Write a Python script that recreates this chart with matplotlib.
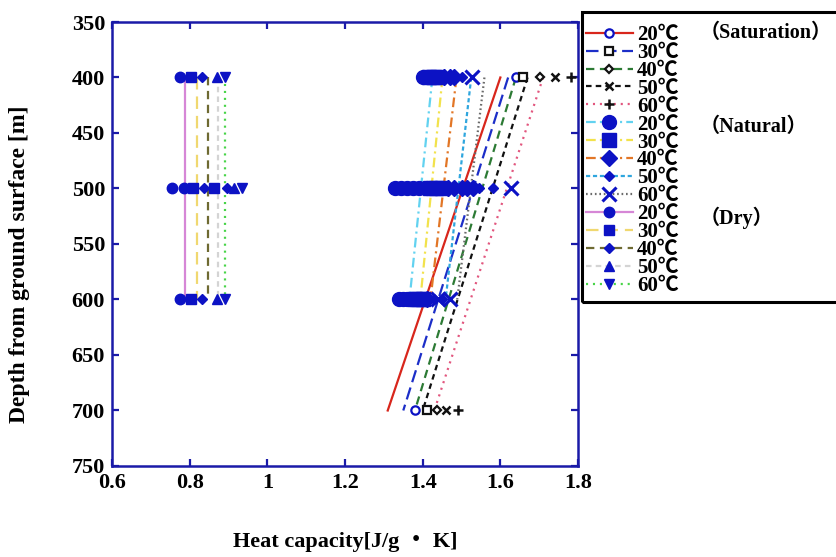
import matplotlib
matplotlib.use('Agg')
import matplotlib.pyplot as plt
from matplotlib.lines import Line2D
from matplotlib.patches import Rectangle

plt.rcParams['font.family'] = ['Liberation Serif', 'Noto Sans CJK JP']
plt.rcParams['font.weight'] = 'bold'
plt.rcParams['lines.scale_dashes'] = False

temps = ['20℃', '30℃', '40℃', '50℃', '60℃']

# Saturated samples: trend lines 400-700 m and measured points at 400 m / 700 m
sat_line_depth = [400, 700]
sat_line_x = [[1.600, 1.310], [1.620, 1.350], [1.640, 1.380], [1.670, 1.400], [1.710, 1.430]]
sat_pt_depth = [400, 700]
sat_pt_x = [[1.641, 1.379], [1.659, 1.410], [1.703, 1.438], [1.741, 1.461], [1.783, 1.492]]

# Natural-moisture samples: trend lines 400-600 m and measured points
nat_line_depth = [400, 600]
nat_line_x = [[1.425, 1.366], [1.451, 1.394], [1.487, 1.420], [1.525, 1.459], [1.559, 1.489]]
nat_pt_400 = [[1.400, 1.410, 1.420], [1.415, 1.430, 1.440], [1.455, 1.470, 1.480], [1.502], [1.528]]
nat_pt_500 = [[1.330, 1.345, 1.360, 1.375, 1.390, 1.410], [1.420, 1.435, 1.450],
              [1.465, 1.480, 1.500, 1.515, 1.530], [1.545, 1.580], [1.628]]
nat_pt_600 = [[1.340, 1.350, 1.360, 1.370], [1.380, 1.390, 1.400], [1.412], [1.430, 1.450],
              [1.440, 1.470]]

# Dry samples: constant values 400-600 m
dry_line_depth = [400, 600]
dry_line_x = [0.788, 0.819, 0.847, 0.873, 0.891]
dry_pt_400 = [[0.775], [0.803], [0.833], [0.870], [0.891]]
dry_pt_500 = [[0.755, 0.785], [0.808, 0.862], [0.838, 0.895], [0.915], [0.935]]
dry_pt_600 = [[0.775], [0.803], [0.833], [0.870], [0.891]]

BLUE = '#0c12c4'
AX_BLUE = '#1a1aa8'

sat_styles = [
    dict(color='#d8261c', ls='-', marker='o', ms=6, mfc='white', mec=BLUE, mew=1.6),
    dict(color='#1c2ec8', ls=(0, (9, 4)), marker='s', ms=5.5, mfc='white', mec='#111111', mew=1.6),
    dict(color='#2c7a34', ls=(0, (6, 4)), marker='D', ms=4.5, mfc='white', mec='#111111', mew=1.6),
    dict(color='#111111', ls=(0, (4, 3)), marker='x', ms=6, mfc='none', mec='#111111', mew=1.8),
    dict(color='#e2567e', ls=(0, (1.5, 3.5)), marker='+', ms=7, mfc='none', mec='#111111', mew=1.8),
]
nat_styles = [
    dict(color='#62d2f0', ls=(0, (7, 3, 1.5, 3)), marker='o', ms=10, mfc=BLUE, mec=BLUE, mew=1),
    dict(color='#f2e24c', ls=(0, (7, 3, 1.5, 3)), marker='s', ms=9.5, mfc=BLUE, mec=BLUE, mew=1),
    dict(color='#e27626', ls=(0, (7, 3, 1.5, 3)), marker='D', ms=8, mfc=BLUE, mec=BLUE, mew=1),
    dict(color='#2fa6de', ls=(0, (3, 2)), marker='D', ms=5, mfc=BLUE, mec=BLUE, mew=1),
    dict(color='#6a6a6a', ls=(0, (1.2, 2)), marker='x', ms=10, mfc='none', mec=BLUE, mew=2.2),
]
dry_styles = [
    dict(color='#d687d6', ls='-', marker='o', ms=7.5, mfc=BLUE, mec=BLUE, mew=1),
    dict(color='#f0d870', ls=(0, (9, 5)), marker='s', ms=6.5, mfc=BLUE, mec=BLUE, mew=1),
    dict(color='#6e6a32', ls=(0, (6, 4)), marker='D', ms=5.5, mfc=BLUE, mec=BLUE, mew=1),
    dict(color='#d4d4d4', ls=(0, (4, 3)), marker='^', ms=7, mfc=BLUE, mec=BLUE, mew=1),
    dict(color='#48d448', ls=(0, (1.5, 3.5)), marker='v', ms=7, mfc=BLUE, mec=BLUE, mew=1),
]

fig = plt.figure(figsize=(8.37, 5.57), dpi=100)
ax = fig.add_axes([0.1338, 0.1634, 0.5568, 0.7971])

LW = 1.6

def split_style(st):
    line = dict(color=st['color'], ls=st['ls'], lw=LW)
    mark = dict(ls='none', marker=st['marker'], ms=st['ms'], mfc=st['mfc'],
                mec=st['mec'], mew=st['mew'])
    return line, mark

# trend lines
for xs, st in zip(sat_line_x, sat_styles):
    ln, _ = split_style(st)
    ax.plot(xs, sat_line_depth, zorder=2, **ln)
for xs, st in zip(nat_line_x, nat_styles):
    ln, _ = split_style(st)
    ax.plot(xs, nat_line_depth, zorder=2, **ln)
for x, st in zip(dry_line_x, dry_styles):
    ln, _ = split_style(st)
    ax.plot([x, x], dry_line_depth, zorder=2, **ln)

# measured points
for xs, st in zip(sat_pt_x, sat_styles):
    _, mk = split_style(st)
    ax.plot(xs, sat_pt_depth, zorder=3, **mk)
for depth, group in ((400, nat_pt_400), (500, nat_pt_500), (600, nat_pt_600)):
    for xs, st in zip(group, nat_styles):
        _, mk = split_style(st)
        ax.plot(xs, [depth] * len(xs), zorder=3, **mk)
for depth, group in ((400, dry_pt_400), (500, dry_pt_500), (600, dry_pt_600)):
    for xs, st in zip(group, dry_styles):
        _, mk = split_style(st)
        ax.plot(xs, [depth] * len(xs), zorder=3, **mk)

ax.set_xlim(0.6, 1.8)
ax.set_ylim(750, 350)
ax.set_xticks([0.6, 0.8, 1.0, 1.2, 1.4, 1.6, 1.8])
ax.set_xticklabels(['0.6', '0.8', '1', '1.2', '1.4', '1.6', '1.8'])
ax.set_yticks(range(350, 751, 50))
for sp in ax.spines.values():
    sp.set_color(AX_BLUE)
    sp.set_linewidth(1.8)
ax.tick_params(direction='in', length=5, width=1.6, color=AX_BLUE,
               top=True, right=True, labelsize=16, pad=5)
for lab in ax.get_xticklabels() + ax.get_yticklabels():
    lab.set_fontweight('bold')

ax.set_xlabel('Heat capacity[J/g ・ K]', fontsize=16, fontweight='bold', labelpad=28)
ax.set_ylabel('Depth from ground surface [m]', fontsize=17, fontweight='bold')
ax.yaxis.set_label_coords(-0.176, 0.455)

# legend
handles = []
for st in sat_styles + nat_styles + dry_styles:
    handles.append(Line2D([], [], color=st['color'], ls=st['ls'], lw=LW,
                          marker=st['marker'], ms=st['ms'], mfc=st['mfc'],
                          mec=st['mec'], mew=st['mew']))
labels = temps * 3
leg = fig.legend(handles, labels, loc='upper left', bbox_to_anchor=(586 / 837, 1 - 25 / 557),
                 frameon=False, fontsize=15, labelspacing=-0.1, handlelength=2.25,
                 handletextpad=0.2, borderaxespad=0, borderpad=0)
for t in leg.get_texts():
    t.set_fontweight('bold')

fig.patches.append(Rectangle((582 / 837, 1 - 302 / 557), 0.4, 290 / 557,
                             transform=fig.transFigure, fill=False, ec='black',
                             lw=2.2, clip_on=False))

for txt, y in (('（Saturation）', 33), ('（Natural）', 127), ('（Dry）', 218)):
    fig.text(700 / 837, 1 - y / 557, txt, fontsize=14.5, fontweight='bold',
             ha='left', va='center')

fig.savefig('out.png', dpi=100)
